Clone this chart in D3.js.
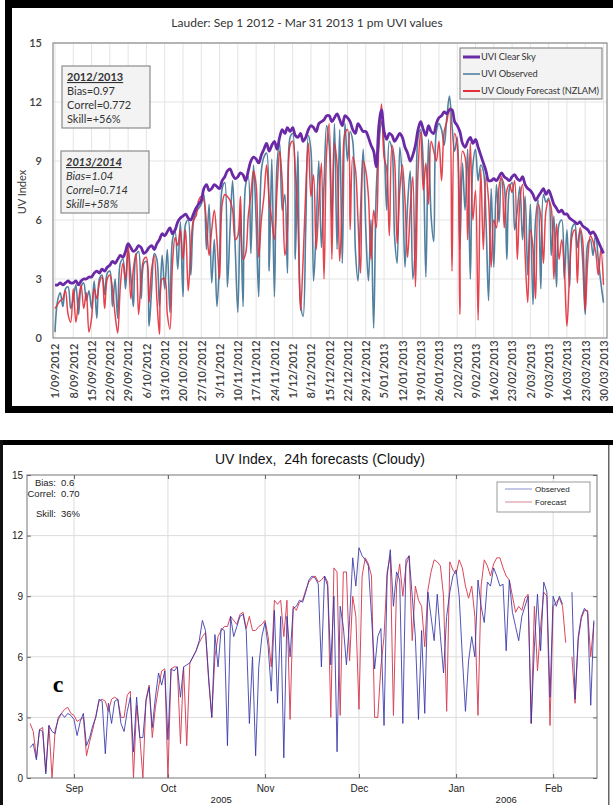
<!DOCTYPE html>
<html>
<head>
<meta charset="utf-8">
<script src="https://cdn.jsdelivr.net/npm/d3@7"></script>
<style>
  body { margin: 0; background: #fff; }
  svg { display: block; }
</style>
</head>
<body>
<svg id="chart" width="613" height="805"></svg>
<script>
// ---------- top chart data (Lauder, daily 1 pm UVI, 1 Sep 2012 onwards) ----------
var topStart = new Date(2012, 8, 1);
var clearSky = [
    2.7,2.7,2.8,2.7,2.8,2.9,2.8, 2.8,2.9,2.7,2.9,3.0,3.0,3.1, 3.1,3.3,3.4,3.3,3.5,3.4,3.6,
    3.7,3.9,3.8,4.0,4.2,4.1,4.4, 4.8,4.6,4.4,4.5,4.7,4.6,4.3, 4.4,4.6,4.7,4.5,4.8,5.0,5.3,
    5.2,5.4,5.6,5.3,5.5,5.9,6.1, 6.2,6.3,6.1,6.0,6.3,6.6,6.8, 7.0,7.6,7.8,7.5,7.6,7.8,7.7,
    7.6,8.0,8.2,8.5,8.6,8.3,8.1, 8.2,8.4,8.3,8.0,8.5,9.0,9.2, 9.1,8.9,9.3,9.6,9.9,9.5,9.8,
    10.0,9.6,10.2,10.6,10.4,10.7,10.5, 10.7,10.3,10.2,10.4,10.0,10.2,10.6, 10.8,10.7,10.5,10.9,11.0,11.1,11.3,
    11.3,11.0,11.2,11.4,11.1,10.8,11.3, 11.2,11.0,10.6,10.4,10.9,10.7,10.5, 10.5,10.2,9.8,9.5,8.7,10.8,11.6,
    10.5,10.1,10.4,10.3,10.0,10.2,10.4, 10.2,9.7,9.4,9.0,9.3,9.8,10.6, 11.0,10.6,10.3,10.8,10.5,10.4,10.9,
    11.2,11.3,11.5,11.4,11.6,11.6,11.0, 10.8,10.5,9.9,9.7,10.0,10.2,9.9, 10.1,9.7,9.3,8.9,8.5,8.0,8.0,
    8.1,8.0,8.2,8.4,8.2,8.1,8.0, 8.2,8.3,8.1,8.0,8.2,7.8,7.6, 7.5,7.3,7.0,7.2,7.4,7.6,7.3,
    7.5,7.2,6.8,6.6,6.4,6.5,6.3, 6.3,6.1,6.0,5.9,5.8,5.9,5.7, 5.6,5.5,5.3,5.4,5.2,4.9,4.6,
    4.3
];
var observed = [
    0.3,1.9,2.3,1.6,2.5,2.6,1.5, 2.0,2.7,1.2,2.6,2.8,1.9,2.4, 1.5,2.9,1.0,3.0,3.2,2.2,3.3,
    3.4,1.6,3.0,1.0,3.8,4.0,2.5, 4.5,3.2,1.6,4.2,4.4,2.0,3.8, 3.9,0.6,2.5,4.3,4.0,1.6,4.2,
    2.5,4.5,1.3,5.0,5.4,3.5,5.9, 2.1,5.8,6.0,3.2,5.9,6.4,6.6, 6.8,7.3,4.5,6.8,2.8,5.0,1.6,
    4.0,7.6,7.9,2.6,5.5,8.0,4.6, 1.3,6.5,1.6,7.8,8.2,4.3,8.8, 6.0,2.1,8.5,9.2,9.4,3.4,9.1,
    2.1,8.8,9.9,6.5,7.3,3.3,10.2, 10.4,4.0,9.5,1.8,1.1,5.6,10.3, 9.5,2.9,5.6,9.0,4.6,7.8,10.8,
    9.8,6.0,10.9,4.5,10.6,3.8,10.9, 9.0,10.5,10.0,4.5,2.9,6.5,9.6, 5.5,2.9,6.0,0.5,7.5,9.8,11.0,
    9.8,6.5,10.0,9.6,5.2,3.8,9.7, 8.0,3.6,6.8,8.5,3.0,4.8,10.2, 10.6,8.8,3.1,10.1,6.2,4.9,10.5,
    10.9,10.6,9.8,11.2,12.3,10.8,9.5, 10.2,4.5,8.9,6.5,9.6,3.0,8.8, 9.6,8.0,8.8,8.5,6.0,1.9,7.6,
    3.6,7.8,5.9,8.1,7.7,4.0,7.6, 7.9,5.5,6.5,7.7,5.0,7.2,3.2, 6.8,1.7,6.0,7.0,2.5,7.3,6.9,
    7.1,4.2,6.2,2.6,5.8,6.0,3.0, 5.5,2.6,5.6,5.8,4.6,5.5,4.0, 1.2,4.8,5.0,4.2,5.3,4.0,2.8,
    1.8
];
var forecast = [
    1.5,1.7,1.9,2.0,2.4,1.2,0.8, 2.5,0.8,1.9,2.7,1.5,2.3,0.3, 1.0,2.5,2.0,2.8,3.1,1.5,3.0,
    3.2,2.5,1.2,0.25,2.6,3.8,3.0, 4.8,2.0,3.5,4.3,1.2,3.0,4.0, 4.1,1.8,3.5,4.2,2.0,0.2,3.0,
    3.0,1.2,0.45,3.8,5.1,4.7,5.5, 4.0,5.5,2.4,4.5,6.0,6.2,7.0, 7.2,7.0,5.8,4.2,5.5,6.5,5.0,
    3.0,6.8,7.3,7.2,7.0,6.5,5.0, 5.2,7.2,4.0,4.3,6.2,7.3,8.5, 7.8,4.1,6.0,7.2,8.8,7.0,6.0,
    5.0,7.5,9.5,8.0,4.2,5.5,9.8, 10.0,8.5,6.0,1.4,4.0,7.5,9.9, 7.2,8.3,4.5,6.8,8.9,3.0,9.5,
    10.9,4.0,9.9,8.8,3.9,7.0,10.4, 10.6,5.5,9.2,8.6,6.0,3.3,9.0, 8.5,7.2,4.0,6.5,5.6,10.0,11.9,
    9.2,8.6,5.2,9.8,9.0,4.8,7.5, 8.8,7.0,4.1,6.5,8.2,2.6,8.5, 10.5,7.5,8.9,6.8,10.0,9.5,9.0,
    10.0,8.0,10.5,11.0,11.7,3.4,10.4, 9.8,1.2,9.5,9.2,5.0,9.9,6.0, 7.5,0.9,8.6,4.5,8.2,7.0,3.6,
    6.0,5.6,7.7,8.2,5.6,7.5,7.8, 7.4,8.0,4.0,7.0,7.8,4.2,1.8, 5.5,4.6,2.0,6.8,6.2,3.8,6.5,
    7.0,6.6,3.0,5.8,4.0,5.0,3.5, 0.6,3.2,5.2,5.5,2.8,5.6,5.0, 1.4,4.0,5.2,4.9,4.4,3.2,4.5,
    2.7
];
var topYTicks = [0, 3, 6, 9, 12, 15];
var topLegend = ["UVI Clear Sky", "UVI Observed", "UV Cloudy Forecast (NZLAM)"];
var stats1 = ["2012/2013", "Bias=0.97", "Correl=0.772", "Skill=+56%"];
var stats2 = ["2013/2014", "Bias=1.04", "Correl=0.714", "Skill=+58%"];

// ---------- bottom chart data (24h cloudy forecasts, daily from 18 Aug 2005) ----------
var bottomStart = new Date(2005, 7, 18);
var obsB = [
    1.5,1.7,0.9,2.4,2.3,0.2,2.6,2.3,2.2,3.0,3.2,3.0,3.2,3.1,
    2.9,2.1,2.8,3.2,1.6,2.0,2.6,3.0,3.9,3.8,1.2,3.7,2.7,3.8,3.9,2.7,2.3,3.3,4.0,1.3,4.0,2.0,2.0,3.8,4.5,2.5,4.0,5.2,4.6,5.3,
    1.9,5.4,5.3,5.5,4.0,5.5,5.6,5.7,6.0,6.3,6.8,7.8,7.3,5.0,3.0,7.1,5.5,7.4,7.3,1.6,8.0,7.0,7.5,8.0,8.1,7.3,2.7,6.0,1.1,5.5,7.0,
    7.7,6.5,4.3,8.3,3.7,8.0,1.0,8.0,6.0,8.4,8.5,8.8,8.7,9.2,9.8,10.0,9.9,9.6,5.5,10.0,9.5,5.6,9.0,1.3,8.5,7.5,5.6,7.8,10.9,9.5,
    11.4,11.0,10.8,10.5,8.0,5.4,7.0,7.4,2.6,10.0,11.3,8.5,10.2,9.8,2.7,10.8,11.0,9.0,7.0,2.9,7.3,3.2,9.2,8.0,6.8,9.1,7.0,5.2,8.0,9.2,10.0,
    10.3,9.0,6.0,3.3,5.8,7.0,6.0,9.8,8.5,7.7,9.7,9.5,10.4,10.0,9.5,9.6,6.3,9.8,8.2,7.5,6.8,8.0,8.5,9.0,2.7,6.5,9.1,6.3,9.7,9.2,4.0,
    9.0,8.5,9.0,8.6,null,null,9.2,3.9,7.0,8.0,8.4,8.2,3.6,7.8
];
var fcB = [
    2.7,2.3,1.0,2.4,2.5,0.3,2.6,0.0,2.4,2.9,3.2,3.4,3.5,3.2,
    3.1,2.8,2.9,3.0,1.1,1.8,2.4,3.1,3.8,3.9,3.8,3.3,3.9,4.0,3.9,3.0,3.0,4.1,4.3,0.0,3.6,2.1,0.0,3.9,4.6,2.0,3.5,4.5,5.3,5.4,
    0.0,5.4,5.5,5.5,1.7,5.5,1.6,5.7,6.0,6.3,6.7,7.0,7.2,4.8,3.0,6.0,7.0,7.3,7.5,7.5,8.0,7.8,7.6,8.1,8.2,7.4,8.0,7.3,7.3,7.5,7.6,
    7.8,7.0,5.5,8.8,8.6,8.8,7.0,8.8,2.9,8.5,8.3,8.7,8.8,9.3,9.7,9.9,10.0,9.7,9.8,10.0,9.7,3.0,10.4,10.2,3.1,10.2,10.2,5.8,9.0,8.0,
    3.4,10.0,10.9,10.6,10.0,3.0,3.0,5.5,7.0,10.2,11.0,3.1,9.5,10.6,9.0,10.5,11.0,6.8,9.5,8.8,8.5,6.5,9.3,10.2,10.8,10.7,10.5,9.0,3.3,10.7,10.3,
    10.1,10.8,10.4,9.5,8.9,9.5,8.0,3.1,9.5,10.8,10.5,10.0,10.6,10.9,10.9,10.4,10.0,9.8,9.0,8.2,8.5,8.3,8.9,9.1,2.7,8.5,5.3,7.5,9.2,9.0,2.6,
    8.5,8.7,8.9,8.5,6.7,null,6.0,3.7,6.8,7.9,8.3,8.3,6.0,7.7
];
var bottomYTicks = [0, 3, 6, 9, 12, 15];
var bottomLegend = ["Observed", "Forecast"];
var bottomStats = [["Bias:", "0.6"], ["Correl:", "0.70"], ["Skill:", "36%"]];
var yearLabels = [["2005", new Date(2005, 9, 18)], ["2006", new Date(2006, 0, 17)]];

var svg = d3.select("#chart");

// =============== TOP CHART ===============
var topFont = "Lato, 'Open Sans', sans-serif";
svg.append("rect").attr("x", 5).attr("y", 0).attr("width", 620).attr("height", 413).attr("fill", "#000");
svg.append("rect").attr("x", 12).attr("y", 8).attr("width", 610).attr("height", 398).attr("fill", "#fff");

var tp = {left: 53, right: 607, top: 43, bottom: 338};
var topDates = clearSky.map(function(d, i) { return d3.timeDay.offset(topStart, i); });
var x1 = d3.scaleTime()
    .domain([topStart, topDates[topDates.length - 1]])
    .range([55, 603.5]);
var y1 = d3.scaleLinear().domain([0, 15]).range([tp.bottom, tp.top]);
var weekDates = d3.range(0, clearSky.length, 7).map(function(i) { return topDates[i]; });

var gTop = svg.append("g");
// gridlines
gTop.selectAll(".vgrid").data(weekDates).enter().append("line")
    .attr("x1", function(d) { return x1(d); }).attr("x2", function(d) { return x1(d); })
    .attr("y1", tp.top).attr("y2", tp.bottom)
    .attr("stroke", "#e4e4e4").attr("stroke-width", 1);
gTop.selectAll(".hgrid").data(topYTicks.slice(1)).enter().append("line")
    .attr("x1", tp.left).attr("x2", tp.right)
    .attr("y1", function(d) { return y1(d); }).attr("y2", function(d) { return y1(d); })
    .attr("stroke", "#e4e4e4").attr("stroke-width", 1);

svg.append("clipPath").attr("id", "clipTop").append("rect")
    .attr("x", tp.left).attr("y", tp.top).attr("width", tp.right - tp.left).attr("height", tp.bottom - tp.top);

var lineTop = d3.line()
    .x(function(d, i) { return x1(topDates[i]); })
    .y(function(d) { return y1(d); })
    .curve(d3.curveCatmullRom.alpha(0.5));

var gLines = gTop.append("g").attr("clip-path", "url(#clipTop)");
gLines.append("path").datum(observed).attr("d", lineTop)
    .attr("fill", "none").attr("stroke", "#52809f").attr("stroke-width", 1.6);
gLines.append("path").datum(forecast).attr("d", lineTop)
    .attr("fill", "none").attr("stroke", "#e2303c").attr("stroke-width", 1.5).attr("stroke-opacity", 0.9);
gLines.append("path").datum(clearSky).attr("d", lineTop)
    .attr("fill", "none").attr("stroke", "#6a2aa6").attr("stroke-width", 2.8);

// plot border
gTop.append("rect").attr("x", tp.left).attr("y", tp.top)
    .attr("width", tp.right - tp.left).attr("height", tp.bottom - tp.top)
    .attr("fill", "none").attr("stroke", "#8c8c8c").attr("stroke-width", 1.2);

// y axis
var yAxisTop = gTop.append("g").attr("transform", "translate(" + tp.left + ",0)")
    .call(d3.axisLeft(y1).tickValues(topYTicks).tickSize(0).tickPadding(11));
yAxisTop.select(".domain").remove();
yAxisTop.selectAll("text").attr("font-family", topFont).attr("font-size", 11)
    .attr("font-weight", 600).attr("fill", "#404040");

// x axis (rotated date labels)
var xAxisTop = gTop.append("g").attr("transform", "translate(0," + tp.bottom + ")")
    .call(d3.axisBottom(x1).tickValues(weekDates).tickFormat(d3.timeFormat("%-d/%m/%Y")).tickSize(0));
xAxisTop.select(".domain").remove();
xAxisTop.selectAll("text")
    .attr("transform", "rotate(-90)")
    .attr("x", -33).attr("y", 0).attr("dy", "0.35em")
    .attr("text-anchor", "middle")
    .attr("font-family", topFont).attr("font-size", 11).attr("font-weight", 600).attr("fill", "#404040");

// title and y label
svg.append("text").attr("x", 307).attr("y", 27).attr("text-anchor", "middle")
    .attr("font-family", topFont).attr("font-size", 12).attr("fill", "#333")
    .text("Lauder: Sep 1 2012 - Mar 31 2013 1 pm UVI values");
svg.append("text").attr("transform", "translate(22,192) rotate(-90)")
    .attr("text-anchor", "middle").attr("dy", "0.35em")
    .attr("font-family", topFont).attr("font-size", 11).attr("fill", "#404040")
    .text("UV Index");

// legend
var legColors = ["#6a2aa6", "#52809f", "#e2303c"];
var legWidths = [3, 1.6, 2];
var gLeg = svg.append("g");
gLeg.append("rect").attr("x", 460).attr("y", 48).attr("width", 142).attr("height", 51)
    .attr("fill", "#f3f3f3").attr("stroke", "#8c8c8c").attr("stroke-width", 1.2);
topLegend.forEach(function(name, i) {
    var yy = 57 + i * 17;
    gLeg.append("line").attr("x1", 463).attr("x2", 480).attr("y1", yy).attr("y2", yy)
        .attr("stroke", legColors[i]).attr("stroke-width", legWidths[i]);
    gLeg.append("text").attr("x", 481).attr("y", yy).attr("dy", "0.35em")
        .attr("font-family", topFont).attr("font-size", 9.3).attr("letter-spacing", -0.1)
        .attr("fill", "#333").text(name);
});

// stats boxes
function statsBox(lines, bx, by, italic) {
    var g = svg.append("g");
    g.append("rect").attr("x", bx).attr("y", by).attr("width", 88).attr("height", 62)
        .attr("fill", "#f3f3f3").attr("stroke", "#8c8c8c").attr("stroke-width", 1.2);
    lines.forEach(function(t, i) {
        g.append("text").attr("x", bx + 5).attr("y", by + 15 + i * 14)
            .attr("font-family", topFont).attr("font-size", 11).attr("fill", "#333")
            .attr("font-weight", i === 0 ? 700 : 400)
            .attr("font-style", italic ? "italic" : "normal")
            .attr("text-decoration", i === 0 ? "underline" : "none")
            .text(t);
    });
}
statsBox(stats1, 62, 66, false);
statsBox(stats2, 61, 151, true);

// =============== BOTTOM CHART ===============
var botFont = "'Liberation Sans', Arial, sans-serif";
svg.append("rect").attr("x", 0).attr("y", 440).attr("width", 613).attr("height", 5).attr("fill", "#000");
svg.append("rect").attr("x", 0).attr("y", 440).attr("width", 3).attr("height", 365).attr("fill", "#111");
svg.append("rect").attr("x", 608).attr("y", 445).attr("width", 1.5).attr("height", 360).attr("fill", "#666");

var bp = {left: 27, right: 597, top: 475, bottom: 778};
var botDates = obsB.map(function(d, i) { return d3.timeDay.offset(bottomStart, i); });
var x2 = d3.scaleTime().domain([new Date(2005, 7, 17), new Date(2006, 1, 15)]).range([bp.left, bp.right]);
var y2 = d3.scaleLinear().domain([0, 15]).range([bp.bottom, bp.top]);
var months = d3.timeMonth.range(new Date(2005, 8, 1), new Date(2006, 1, 2));

var gBot = svg.append("g");
gBot.selectAll(".vgrid").data(months).enter().append("line")
    .attr("x1", function(d) { return x2(d); }).attr("x2", function(d) { return x2(d); })
    .attr("y1", bp.top).attr("y2", bp.bottom)
    .attr("stroke", "#dcdcdc").attr("stroke-width", 1);
gBot.selectAll(".hgrid").data(bottomYTicks.slice(1, -1)).enter().append("line")
    .attr("x1", bp.left).attr("x2", bp.right)
    .attr("y1", function(d) { return y2(d); }).attr("y2", function(d) { return y2(d); })
    .attr("stroke", "#dcdcdc").attr("stroke-width", 1);

var lineBot = d3.line()
    .defined(function(d) { return d != null; })
    .x(function(d, i) { return x2(botDates[i]); })
    .y(function(d) { return y2(d); });

gBot.append("path").datum(fcB).attr("d", lineBot)
    .attr("fill", "none").attr("stroke", "#d9475c").attr("stroke-width", 1);
gBot.append("path").datum(obsB).attr("d", lineBot)
    .attr("fill", "none").attr("stroke", "#3535a8").attr("stroke-width", 1).attr("stroke-opacity", 0.85);

// box + inward ticks
gBot.append("rect").attr("x", bp.left).attr("y", bp.top)
    .attr("width", bp.right - bp.left).attr("height", bp.bottom - bp.top)
    .attr("fill", "none").attr("stroke", "#777").attr("stroke-width", 1);
function styleTicks(g) {
    g.select(".domain").remove();
    g.selectAll("line").attr("stroke", "#666");
    g.selectAll("text").remove();
}
gBot.append("g").attr("transform", "translate(0," + bp.bottom + ")")
    .call(d3.axisTop(x2).tickValues(months).tickSize(4)).call(styleTicks);
gBot.append("g").attr("transform", "translate(0," + bp.top + ")")
    .call(d3.axisBottom(x2).tickValues(months).tickSize(4)).call(styleTicks);
gBot.append("g").attr("transform", "translate(" + bp.left + ",0)")
    .call(d3.axisRight(y2).tickValues(bottomYTicks).tickSize(4)).call(styleTicks);
gBot.append("g").attr("transform", "translate(" + bp.right + ",0)")
    .call(d3.axisLeft(y2).tickValues(bottomYTicks).tickSize(4)).call(styleTicks);

// labels
var xAxisBot = gBot.append("g").attr("transform", "translate(0," + bp.bottom + ")")
    .call(d3.axisBottom(x2).tickValues(months).tickFormat(d3.timeFormat("%b")).tickSize(0).tickPadding(7));
xAxisBot.select(".domain").remove();
xAxisBot.selectAll("text").attr("font-family", botFont).attr("font-size", 10).attr("fill", "#222");

var yAxisBot = gBot.append("g").attr("transform", "translate(" + bp.left + ",0)")
    .call(d3.axisLeft(y2).tickValues(bottomYTicks).tickSize(0).tickPadding(4));
yAxisBot.select(".domain").remove();
yAxisBot.selectAll("text").attr("font-family", botFont).attr("font-size", 10).attr("fill", "#222");

gBot.selectAll(".year").data(yearLabels).enter().append("text")
    .attr("x", function(d) { return x2(d[1]); }).attr("y", 803)
    .attr("text-anchor", "middle").attr("font-family", botFont).attr("font-size", 9.5).attr("fill", "#222")
    .text(function(d) { return d[0]; });

svg.append("text").attr("x", 320).attr("y", 464).attr("text-anchor", "middle")
    .attr("font-family", botFont).attr("font-size", 14).attr("fill", "#111")
    .style("white-space", "pre")
    .text("UV Index,  24h forecasts (Cloudy)");

// stats text
var statY = [486, 496.5, 517];
bottomStats.forEach(function(s, i) {
    svg.append("text").attr("x", 56).attr("y", statY[i]).attr("text-anchor", "end")
        .attr("font-family", botFont).attr("font-size", 9.5).attr("fill", "#222").text(s[0]);
    svg.append("text").attr("x", 61).attr("y", statY[i])
        .attr("font-family", botFont).attr("font-size", 9.5).attr("fill", "#222").text(s[1]);
});

svg.append("text").attr("x", 58).attr("y", 692).attr("text-anchor", "middle")
    .attr("font-family", "'Liberation Serif', 'Times New Roman', serif")
    .attr("font-size", 24).attr("font-weight", 700).attr("fill", "#000").text("c");

// legend
var botLegColors = ["#8a90d2", "#d68896"];
var gLeg2 = svg.append("g");
gLeg2.append("rect").attr("x", 497).attr("y", 482).attr("width", 93).attr("height", 30)
    .attr("fill", "#fff").attr("stroke", "#999").attr("stroke-width", 1);
bottomLegend.forEach(function(name, i) {
    var yy = 489 + i * 13;
    gLeg2.append("line").attr("x1", 505).attr("x2", 532).attr("y1", yy).attr("y2", yy)
        .attr("stroke", botLegColors[i]).attr("stroke-width", 1);
    gLeg2.append("text").attr("x", 535).attr("y", yy).attr("dy", "0.35em")
        .attr("font-family", botFont).attr("font-size", 8).attr("fill", "#222").text(name);
});
</script>
</body>
</html>
